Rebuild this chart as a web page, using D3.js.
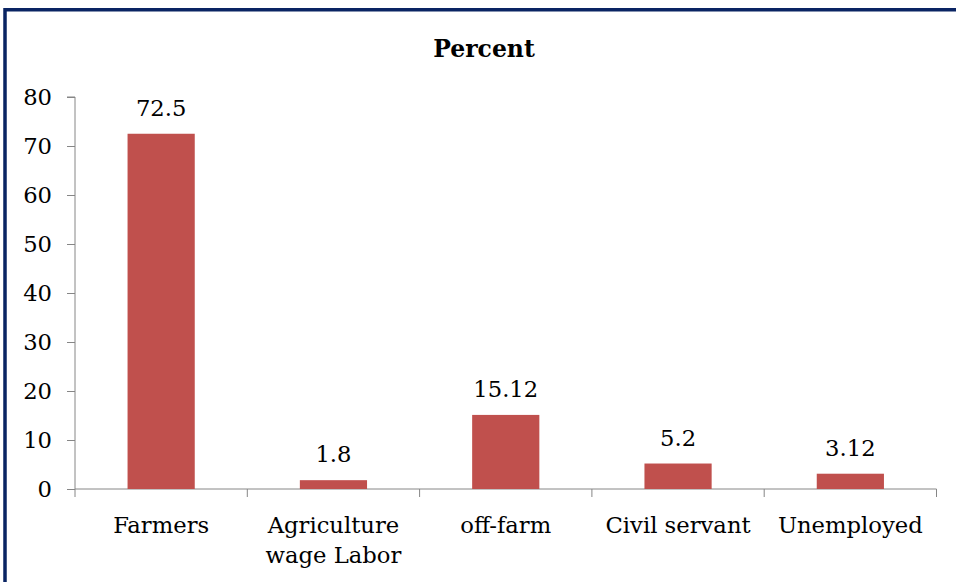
<!DOCTYPE html>
<html><head><meta charset="utf-8">
<script src="https://cdn.jsdelivr.net/npm/d3@7"></script>
<style>html,body{margin:0;padding:0;background:#fff;}svg{display:block;}</style>
</head><body>
<script>
const categories = [["Farmers"], ["Agriculture", "wage Labor"], ["off-farm"], ["Civil servant"], ["Unemployed"]];
const values = [72.5, 1.8, 15.12, 5.2, 3.12];
const valueLabels = ["72.5", "1.8", "15.12", "5.2", "3.12"];
const yTicks = [0, 10, 20, 30, 40, 50, 60, 70, 80];
const title = "Percent";

(function () {
const W = 956, H = 582;
const font = "'DejaVu Serif', serif";
const fs = 22.7;
const svg = d3.select("body").append("svg").attr("width", W).attr("height", H);

svg.append("rect").attr("width", W).attr("height", H).attr("fill", "#fff");
// border (top and left visible)
svg.append("rect").attr("x", 5).attr("y", 9.75).attr("width", W + 10).attr("height", H + 10)
  .attr("fill", "none").attr("stroke", "#0a2463").attr("stroke-width", 3.5);

const pL = 75, pR = 936.5, pT = 97, pB = 489;
const x = d3.scaleBand().domain(d3.range(values.length)).range([pL, pR]).paddingInner(0.61).paddingOuter(0.305);
const y = d3.scaleLinear().domain([0, 80]).range([pB, pT]);

svg.append("text").attr("x", 484).attr("y", 57).attr("text-anchor", "middle")
  .attr("font-family", font).attr("font-weight", "bold").attr("font-size", 23.5).attr("fill", "#000").text(title);

// y axis
const yAxis = svg.append("g").attr("transform", `translate(${pL},0)`)
  .call(d3.axisLeft(y).tickValues(yTicks).tickSize(8).tickPadding(15).tickFormat(d3.format("d")));
yAxis.select(".domain").attr("stroke", "#868686").attr("d", `M-8,${pT}H0V${pB}`);
yAxis.selectAll(".tick line").attr("stroke", "#868686");
yAxis.selectAll(".tick text").attr("font-family", font).attr("font-size", fs).attr("fill", "#000");

// x axis
const bw = x.step();
const xg = svg.append("g").attr("transform", `translate(0,${pB})`);
xg.append("line").attr("x1", pL).attr("x2", pR).attr("y1", 0).attr("y2", 0).attr("stroke", "#868686");
xg.selectAll("line.tk").data(d3.range(values.length + 1)).join("line").attr("class", "tk")
  .attr("x1", i => pL + i * bw).attr("x2", i => pL + i * bw).attr("y1", 0).attr("y2", 8).attr("stroke", "#868686");

// bars
svg.selectAll("rect.bar").data(values).join("rect").attr("class", "bar")
  .attr("x", (d, i) => x(i)).attr("width", x.bandwidth())
  .attr("y", d => y(d)).attr("height", d => y(0) - y(d)).attr("fill", "#C0504D");

// value labels
svg.selectAll("text.val").data(values).join("text").attr("class", "val")
  .attr("x", (d, i) => x(i) + x.bandwidth() / 2).attr("y", d => y(d) - 18)
  .attr("text-anchor", "middle").attr("font-family", font).attr("font-size", fs).attr("fill", "#000")
  .text((d, i) => valueLabels[i]);

// category labels
categories.forEach((lines, i) => {
  const t = svg.append("text").attr("text-anchor", "middle").attr("font-family", font).attr("font-size", fs).attr("fill", "#000");
  lines.forEach((ln, j) => {
    t.append("tspan").attr("x", x(i) + x.bandwidth() / 2).attr("y", 533 + j * 30).text(ln);
  });
});
})();
</script>
</body></html>
